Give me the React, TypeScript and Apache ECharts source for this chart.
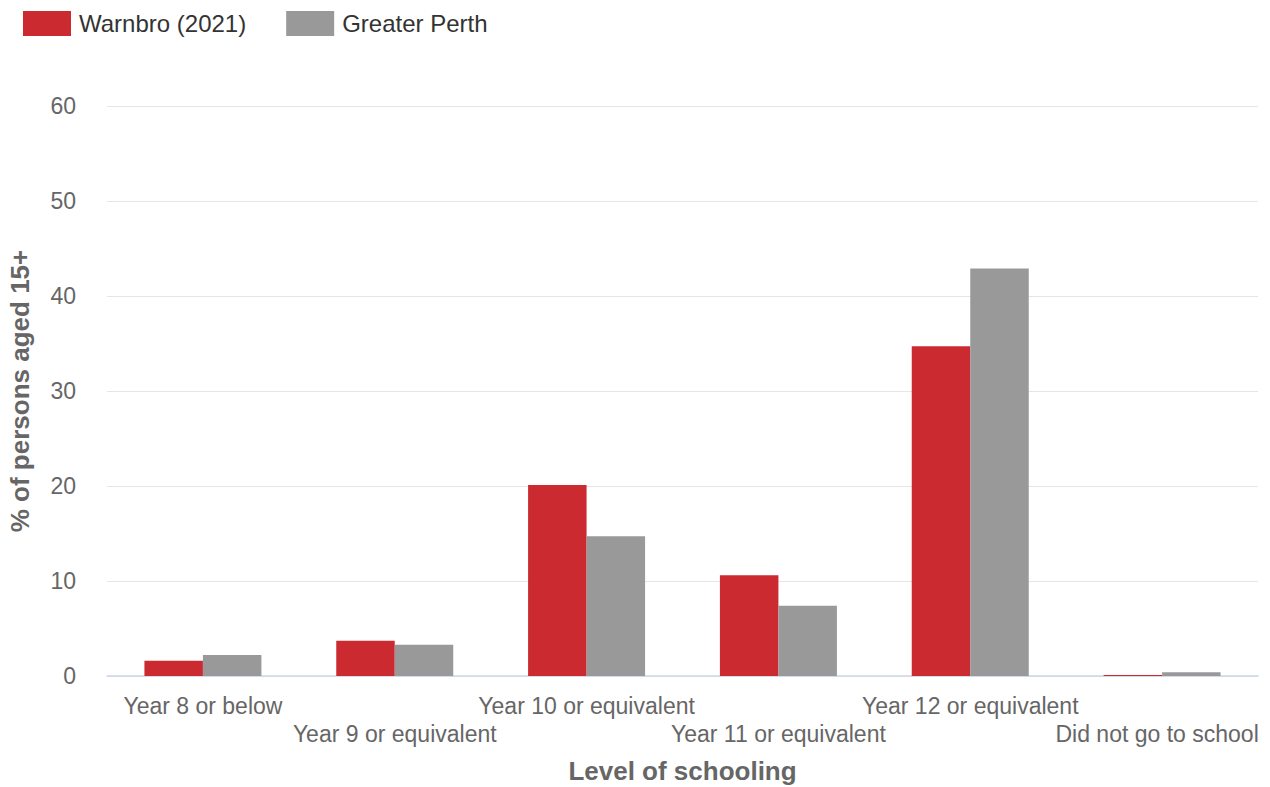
import React, { useEffect, useRef } from "react";
import * as echarts from "echarts";

const categories = [
  "Year 8 or below",
  "Year 9 or equivalent",
  "Year 10 or equivalent",
  "Year 11 or equivalent",
  "Year 12 or equivalent",
  "Did not go to school",
];
const warnbro = [1.6, 3.7, 20.1, 10.6, 34.7, 0.1];
const greaterPerth = [2.2, 3.3, 14.7, 7.4, 42.9, 0.4];
const seriesNames = ["Warnbro (2021)", "Greater Perth"];
const colors = ["#cc2a31", "#999999"];

const FONT = "'Liberation Sans', Arial, sans-serif";

export default function App() {
  const ref = useRef<HTMLDivElement>(null);
  useEffect(() => {
    if (!ref.current) return;
    const chart = echarts.init(ref.current, undefined, { renderer: "svg" });
    chart.setOption({
      animation: false,
      textStyle: { fontFamily: FONT },
      legend: {
        left: 23,
        top: 11,
        padding: 0,
        itemWidth: 48,
        itemHeight: 25,
        itemGap: 40,
        icon: "rect",
        textStyle: { fontSize: 24, lineHeight: 25, color: "#333333", fontFamily: FONT, padding: [0, 0, 0, 3] },
        data: seriesNames,
      },
      grid: { left: 107, right: 12, top: 106, bottom: 111, containLabel: false, outerBoundsMode: "none" },
      xAxis: {
        type: "category",
        data: categories,
        boundaryGap: true,
        axisLine: { lineStyle: { color: "#ccd6eb", width: 1.5 } },
        axisTick: { alignWithLabel: true, length: 19, lineStyle: { color: "#ccd6eb", width: 1.5 } },
        axisLabel: {
          interval: 0,
          margin: 16,
          fontSize: 23,
          lineHeight: 28,
          color: "#666666",
          fontFamily: FONT,
          formatter: (v: string, i: number) => {
            if (i === categories.length - 1) return "\n{c|" + v + "}";
            return i % 2 === 1 ? "\n" + v : v;
          },
          rich: {
            c: { fontSize: 23, lineHeight: 28, color: "#666666", fontFamily: FONT, padding: [0, 10, 0, 0] },
          },
        },
        name: "Level of schooling",
        nameLocation: "middle",
        nameGap: 82,
        nameTextStyle: { fontSize: 26, fontWeight: "bold", color: "#666666", fontFamily: FONT },
      },
      yAxis: {
        type: "value",
        min: 0,
        max: 60,
        interval: 10,
        splitLine: { lineStyle: { color: "#e6e6e6", width: 1 } },
        axisLine: { show: false },
        axisTick: { show: false },
        axisLabel: { fontSize: 23, color: "#666666", margin: 31, fontFamily: FONT },
        name: "% of persons aged 15+",
        nameLocation: "middle",
        nameGap: 74,
        nameTextStyle: { fontSize: 26, fontWeight: "bold", color: "#666666", fontFamily: FONT },
      },
      series: [
        {
          name: seriesNames[0],
          type: "bar",
          data: warnbro,
          barWidth: 58.5,
          barGap: "0%",
          itemStyle: { color: colors[0] },
        },
        {
          name: seriesNames[1],
          type: "bar",
          data: greaterPerth,
          barWidth: 58.5,
          itemStyle: { color: colors[1] },
        },
      ],
    });
    return () => chart.dispose();
  }, []);
  return (
    <div
      ref={ref}
      style={{ position: "absolute", left: 0, top: 0, width: 1270, height: 787, background: "#ffffff" }}
    />
  );
}
